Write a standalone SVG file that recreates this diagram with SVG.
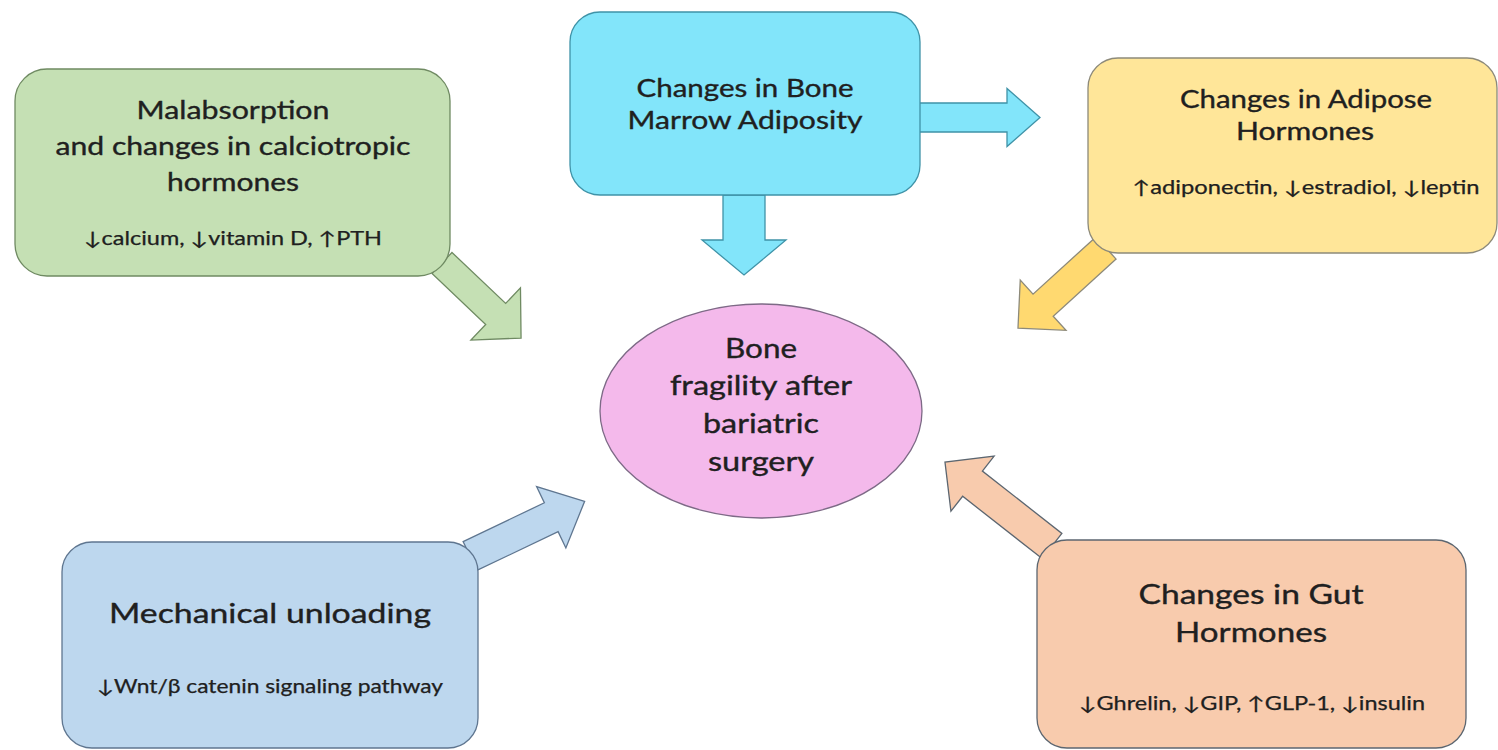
<svg xmlns="http://www.w3.org/2000/svg" width="1498" height="750" viewBox="0 0 1498 750">
<style>
text{font-family:Lato,"Open Sans","DejaVu Sans",sans-serif;fill:#202020;stroke:#202020;stroke-width:0.35;text-anchor:middle}
.t{font-size:24.5px}
.tb{font-size:27px}
.te{font-size:26px}
.s{font-size:18.5px;stroke-width:0.25}
.box{stroke-width:1.3}
.arr{stroke-width:1.3;stroke-linejoin:miter}
</style>
<rect width="1498" height="750" fill="#ffffff"/>
<g id="connectors">
<polygon class="arr" fill="#C5E0B4" stroke="#6f8a62" transform="translate(442,263) rotate(43.5)" points="0,-14.5 74,-14.5 74,-36 109,0 74,36 74,14.5 0,14.5"/>
<polygon class="arr" fill="#82E5FA" stroke="#3f93a8" transform="translate(919,117.5)" points="0,-14.5 88,-14.5 88,-29 121,0 88,29 88,14.5 0,14.5"/>
<polygon class="arr" fill="#82E5FA" stroke="#3f93a8" transform="translate(744,195) rotate(90)" points="0,-21 45,-21 45,-42 80,0 45,42 45,21 0,21"/>
<polygon class="arr" fill="#FFD970" stroke="#8d8a7a" transform="translate(1106,248) rotate(137.7)" points="0,-15 85,-15 85,-34 119,0 85,34 85,15 0,15"/>
<polygon class="arr" fill="#BDD7EE" stroke="#5f7690" transform="translate(470,556) rotate(-25.5)" points="0,-16 90,-16 90,-34 127,0 90,34 90,16 0,16"/>
<polygon class="arr" fill="#F8CBAD" stroke="#5c6670" transform="translate(1052,546) rotate(-141.9)" points="0,-16 101,-16 101,-35 136,0 101,35 101,16 0,16"/>
</g>
<g id="node-malabsorption">
<rect class="box" x="15" y="69" width="435" height="207" rx="32" fill="#C5E0B4" stroke="#6f8a62"/>
<text class="t" x="233" y="119" textLength="193" lengthAdjust="spacingAndGlyphs">Malabsorption</text>
<text class="t" x="233" y="155" textLength="355" lengthAdjust="spacingAndGlyphs">and changes in calciotropic</text>
<text class="t" x="233" y="191" textLength="132" lengthAdjust="spacingAndGlyphs">hormones</text>
<text class="s" x="233" y="245" textLength="298" lengthAdjust="spacingAndGlyphs">↓calcium, ↓vitamin D, ↑PTH</text>
</g>
<g id="node-bone-marrow">
<rect class="box" x="570" y="12" width="350" height="183" rx="30" fill="#82E5FA" stroke="#3f93a8"/>
<text class="t" x="745" y="97" textLength="217" lengthAdjust="spacingAndGlyphs">Changes in Bone</text>
<text class="t" x="745" y="129" textLength="235" lengthAdjust="spacingAndGlyphs">Marrow Adiposity</text>
</g>
<g id="node-adipose">
<rect class="box" x="1088" y="58" width="409" height="195" rx="30" fill="#FFE699" stroke="#8d8a7a"/>
<text class="t" x="1306" y="108" textLength="252" lengthAdjust="spacingAndGlyphs">Changes in Adipose</text>
<text class="t" x="1305" y="140" textLength="138" lengthAdjust="spacingAndGlyphs">Hormones</text>
<text class="s" x="1306" y="194" textLength="347" lengthAdjust="spacingAndGlyphs">↑adiponectin, ↓estradiol, ↓leptin</text>
</g>
<g id="node-center">
<ellipse cx="761" cy="411" rx="161" ry="107" fill="#F4B9EB" stroke="#7d6a86" stroke-width="1.3"/>
<text class="te" x="761" y="358" textLength="72" lengthAdjust="spacingAndGlyphs">Bone</text>
<text class="te" x="761" y="395" textLength="182" lengthAdjust="spacingAndGlyphs">fragility after</text>
<text class="te" x="761" y="433" textLength="116" lengthAdjust="spacingAndGlyphs">bariatric</text>
<text class="te" x="761" y="471" textLength="106" lengthAdjust="spacingAndGlyphs">surgery</text>
</g>
<g id="node-mechanical">
<rect class="box" x="62" y="542" width="416" height="206" rx="30" fill="#BDD7EE" stroke="#5f7690"/>
<text class="tb" x="270" y="623" textLength="322" lengthAdjust="spacingAndGlyphs">Mechanical unloading</text>
<text class="s" x="270" y="693" textLength="346" lengthAdjust="spacingAndGlyphs">↓Wnt/β catenin signaling pathway</text>
</g>
<g id="node-gut">
<rect class="box" x="1037" y="540" width="429" height="208" rx="30" fill="#F8CBAD" stroke="#5c6670"/>
<text class="tb" x="1251" y="604" textLength="225" lengthAdjust="spacingAndGlyphs">Changes in Gut</text>
<text class="tb" x="1251" y="642" textLength="152" lengthAdjust="spacingAndGlyphs">Hormones</text>
<text class="s" x="1252" y="710" textLength="346" lengthAdjust="spacingAndGlyphs">↓Ghrelin, ↓GIP, ↑GLP-1, ↓insulin</text>
</g>
</svg>
